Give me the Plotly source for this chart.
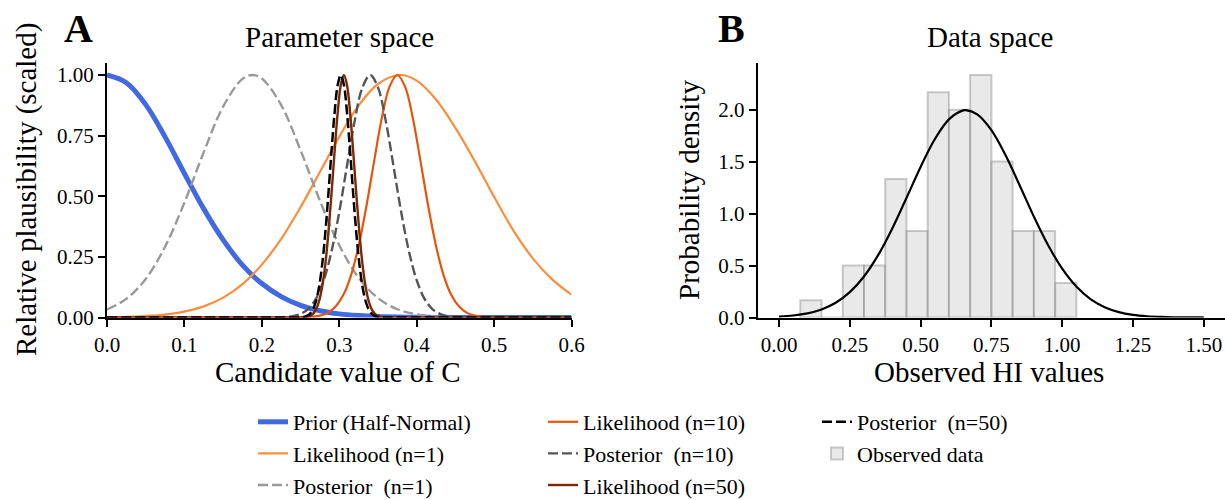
import plotly.graph_objects as go

W, H = 1225, 500

# ---------------- Panel A data (scaled plausibility curves) -------------
prior_x = [0.0, 0.025, 0.05, 0.075, 0.1, 0.125, 0.15, 0.175, 0.2, 0.225, 0.25, 0.275, 0.3,
           0.325, 0.35, 0.375, 0.4, 0.425, 0.45, 0.475, 0.5, 0.525, 0.55, 0.575, 0.6]
prior_y = [1.0, 0.968, 0.878, 0.745, 0.594, 0.448, 0.320, 0.216, 0.140, 0.086, 0.050, 0.028, 0.015,
           0.008, 0.004, 0.002, 0.001, 0.0, 0.0, 0.0, 0.0, 0.0, 0.0, 0.0, 0.0]

lik1_x = [0.0, 0.025, 0.05, 0.075, 0.1, 0.125, 0.15, 0.175, 0.2, 0.225, 0.25, 0.275, 0.3,
          0.325, 0.35, 0.378, 0.4, 0.425, 0.45, 0.475, 0.5, 0.525, 0.55, 0.575, 0.6]
lik1_y = [0.001, 0.0025, 0.006, 0.012, 0.024, 0.046, 0.082, 0.138, 0.218, 0.324, 0.455, 0.600, 0.746,
          0.874, 0.963, 1.0, 0.977, 0.899, 0.782, 0.645, 0.498, 0.358, 0.244, 0.157, 0.094]

post1_x = [0.0, 0.025, 0.05, 0.075, 0.1, 0.125, 0.15, 0.175, 0.188, 0.2, 0.225, 0.25, 0.275,
           0.3, 0.325, 0.35, 0.375, 0.4, 0.425, 0.45, 0.475, 0.5, 0.55, 0.6]
post1_y = [0.033, 0.077, 0.159, 0.292, 0.474, 0.682, 0.870, 0.984, 1.0, 0.986, 0.876, 0.690, 0.482,
           0.298, 0.164, 0.080, 0.034, 0.013, 0.004, 0.001, 0.0, 0.0, 0.0, 0.0]

lik10_x = [0.0, 0.2, 0.235, 0.245, 0.255, 0.265, 0.275, 0.285, 0.295, 0.305, 0.315, 0.325, 0.335,
           0.345, 0.355, 0.365, 0.375, 0.385, 0.395, 0.405, 0.415, 0.425, 0.435, 0.445, 0.455,
           0.465, 0.475, 0.485, 0.495, 0.505, 0.515, 0.55, 0.6]
lik10_y = [0.0, 0.0, 0.0, 0.0003, 0.0009, 0.0027, 0.0076, 0.0192, 0.0439, 0.0914, 0.172, 0.295, 0.458,
           0.644, 0.823, 0.952, 1.0, 0.952, 0.823, 0.644, 0.458, 0.295, 0.172, 0.0914, 0.0439,
           0.0192, 0.0076, 0.0027, 0.0009, 0.0003, 0.0, 0.0, 0.0]

post10_x = [0.0, 0.17, 0.2, 0.21, 0.22, 0.23, 0.24, 0.25, 0.26, 0.27, 0.28, 0.29, 0.3, 0.31, 0.32,
            0.33, 0.34, 0.35, 0.36, 0.37, 0.38, 0.39, 0.4, 0.41, 0.42, 0.43, 0.44, 0.45, 0.46,
            0.47, 0.48, 0.51, 0.6]
post10_y = [0.0, 0.0, 0.0, 0.0002, 0.0006, 0.0019, 0.0055, 0.0148, 0.0359, 0.0782, 0.154, 0.273, 0.435,
            0.626, 0.812, 0.949, 1.0, 0.949, 0.812, 0.626, 0.435, 0.273, 0.154, 0.0782, 0.0359,
            0.0148, 0.0055, 0.0019, 0.0006, 0.0002, 0.0, 0.0, 0.0]

lik50_x = [0.0, 0.2, 0.242, 0.246, 0.250, 0.254, 0.258, 0.262, 0.266, 0.270, 0.274, 0.278, 0.282,
           0.286, 0.290, 0.294, 0.298, 0.302, 0.306, 0.310, 0.314, 0.318, 0.322, 0.326, 0.330,
           0.334, 0.338, 0.342, 0.346, 0.350, 0.354, 0.358, 0.362, 0.366, 0.370, 0.4, 0.6]
lik50_y = [0.0, 0.0, 0.0, 0.0, 0.0003, 0.0008, 0.0024, 0.0062, 0.0150, 0.0333, 0.068, 0.128, 0.220,
           0.350, 0.511, 0.685, 0.845, 0.959, 1.0, 0.959, 0.845, 0.685, 0.511, 0.350, 0.220,
           0.128, 0.068, 0.0333, 0.0150, 0.0062, 0.0024, 0.0008, 0.0003, 0.0, 0.0, 0.0, 0.0]

post50_x = [0.0, 0.2, 0.238, 0.242, 0.246, 0.250, 0.254, 0.258, 0.262, 0.266, 0.270, 0.274, 0.278,
            0.282, 0.286, 0.290, 0.294, 0.298, 0.302, 0.306, 0.310, 0.314, 0.318, 0.322, 0.326,
            0.330, 0.334, 0.338, 0.342, 0.346, 0.350, 0.354, 0.358, 0.362, 0.366, 0.4, 0.6]
post50_y = [0.0, 0.0, 0.0, 0.0, 0.0003, 0.0008, 0.0024, 0.0062, 0.0150, 0.0333, 0.068, 0.128, 0.220,
            0.350, 0.511, 0.685, 0.845, 0.959, 1.0, 0.959, 0.845, 0.685, 0.511, 0.350, 0.220,
            0.128, 0.068, 0.0333, 0.0150, 0.0062, 0.0024, 0.0008, 0.0003, 0.0, 0.0, 0.0, 0.0]

# ---------------- Panel B data -------------
hist_left = [0.075, 0.15, 0.225, 0.3, 0.375, 0.45, 0.525, 0.6, 0.675, 0.75, 0.825, 0.9, 0.975]
hist_density = [0.167, 0.0, 0.5, 0.5, 1.333, 0.833, 2.167, 2.0, 2.333, 1.5, 0.833, 0.833, 0.333]
bin_width = 0.075

fit_x = [0.0, 0.05, 0.1, 0.15, 0.2, 0.25, 0.3, 0.35, 0.4, 0.45, 0.5, 0.55, 0.6, 0.65, 0.66, 0.7,
         0.75, 0.8, 0.85, 0.9, 0.95, 1.0, 1.05, 1.1, 1.15, 1.2, 1.25, 1.3, 1.35, 1.4, 1.45, 1.5]
fit_y = [0.0086, 0.0191, 0.0396, 0.0773, 0.1416, 0.244, 0.395, 0.600, 0.857, 1.150, 1.449, 1.715,
         1.907, 1.993, 1.995, 1.955, 1.803, 1.561, 1.271, 0.971, 0.697, 0.470, 0.298, 0.177, 0.099,
         0.052, 0.0257, 0.0119, 0.0052, 0.0021, 0.0008, 0.0003]

xA_ticks = [0.0, 0.1, 0.2, 0.3, 0.4, 0.5, 0.6]
yA_ticks = [0.0, 0.25, 0.5, 0.75, 1.0]
xB_ticks = [0.0, 0.25, 0.5, 0.75, 1.0, 1.25, 1.5]
yB_ticks = [0.0, 0.5, 1.0, 1.5, 2.0]

FONT = "Liberation Serif"

fig = go.Figure()

def line(x, y, name, color, width, dash=None, legend="legend", group=None):
    fig.add_trace(go.Scatter(
        x=x, y=y, mode="lines", name=name,
        line=dict(color=color, width=width, dash=dash, shape="spline", smoothing=1.0),
        xaxis="x", yaxis="y", legend=legend, legendgroup=group or name,
        hoverinfo="skip"))

line(prior_x, prior_y, "Prior (Half-Normal)", "#4169E1", 5)
line(lik1_x, lik1_y, "Likelihood (n=1)", "#FD8D3C", 2.2)
line(post1_x, post1_y, "Posterior  (n=1)", "#999999", 2.4, "10px,4px")
line(lik10_x, lik10_y, "Likelihood (n=10)", "#E6550D", 2.2, legend="legend2")
line(post10_x, post10_y, "Posterior  (n=10)", "#555555", 2.4, "10px,4px", legend="legend2")
line(lik50_x, lik50_y, "Likelihood (n=50)", "#7F2704", 2.4, legend="legend2")
line(post50_x, post50_y, "Posterior  (n=50)", "#000000", 2.5, "10px,4px", legend="legend3")

fig.add_trace(go.Bar(
    x=hist_left, y=hist_density, width=bin_width, offset=0,
    marker=dict(color="rgba(211,211,211,0.5)", line=dict(color="rgba(128,128,128,0.4)", width=2)),
    name="Observed data", xaxis="x2", yaxis="y2", legend="legend3", legendgroup="obs",
    hoverinfo="skip"))
fig.add_trace(go.Scatter(
    x=fit_x, y=fit_y, mode="lines", line=dict(color="black", width=2.2, shape="spline"),
    xaxis="x2", yaxis="y2", showlegend=False, hoverinfo="skip"))

def px_x(p):
    return p / W

def px_y(p):
    return 1 - p / H

axis_common = dict(showline=True, linewidth=2, linecolor="black", mirror=False,
                   ticks="outside", ticklen=7, tickwidth=1.5, tickcolor="black",
                   showgrid=False, zeroline=False, automargin=False,
                   tickfont=dict(family=FONT, size=21, color="black"))

yA_dom = [px_y(317.5), px_y(62.9)]
fig.update_layout(
    template="none",
    width=W, height=H, margin=dict(l=0, r=0, t=0, b=0, pad=0, autoexpand=False),
    paper_bgcolor="white", plot_bgcolor="white",
    font=dict(family=FONT, color="black"),
    xaxis=dict(domain=[px_x(107), px_x(571.5)], range=[0, 0.6], tickvals=xA_ticks,
               tickformat=".1f", anchor="y", **axis_common),
    yaxis=dict(domain=yA_dom, range=[0, 1.05], tickvals=yA_ticks, tickformat=".2f",
               anchor="x", **axis_common),
    xaxis2=dict(domain=[px_x(757.8), 1.0], range=[-0.075, 1.575], tickvals=xB_ticks,
                tickformat=".2f", anchor="y2", **axis_common),
    yaxis2=dict(domain=yA_dom, range=[0, 2.45], tickvals=yB_ticks, tickformat=".1f",
                anchor="x2", **axis_common),
    showlegend=True,
)

leg_common = dict(xref="container", yref="container", xanchor="left", yanchor="top",
                  orientation="v", bgcolor="rgba(0,0,0,0)", borderwidth=0,
                  font=dict(family=FONT, size=22, color="black"), tracegroupgap=0)
fig.update_layout(
    legend=dict(x=px_x(253), y=px_y(401), **leg_common),
    legend2=dict(x=px_x(543), y=px_y(401), **leg_common),
    legend3=dict(x=px_x(817), y=px_y(401), **leg_common),
)

def ann(text, x, y, size, angle=0):
    fig.add_annotation(text=text, x=px_x(x), y=px_y(y), xref="paper", yref="paper",
                       showarrow=False, xanchor="center", yanchor="middle", textangle=angle,
                       font=dict(family=FONT, size=size, color="black"))

ann("<b>A</b>", 78, 28.5, 40)
ann("<b>B</b>", 732, 28.5, 40)
ann("Parameter space", 339, 37.5, 29)
ann("Data space", 990, 37.5, 29)
ann("Candidate value of C", 338, 372, 29)
ann("Observed HI values", 989, 372, 29)
ann("Relative plausibility (scaled)", 26, 190, 29, -90)
ann("Probability density", 689, 190, 29, -90)

fig.write_html("out.html")
